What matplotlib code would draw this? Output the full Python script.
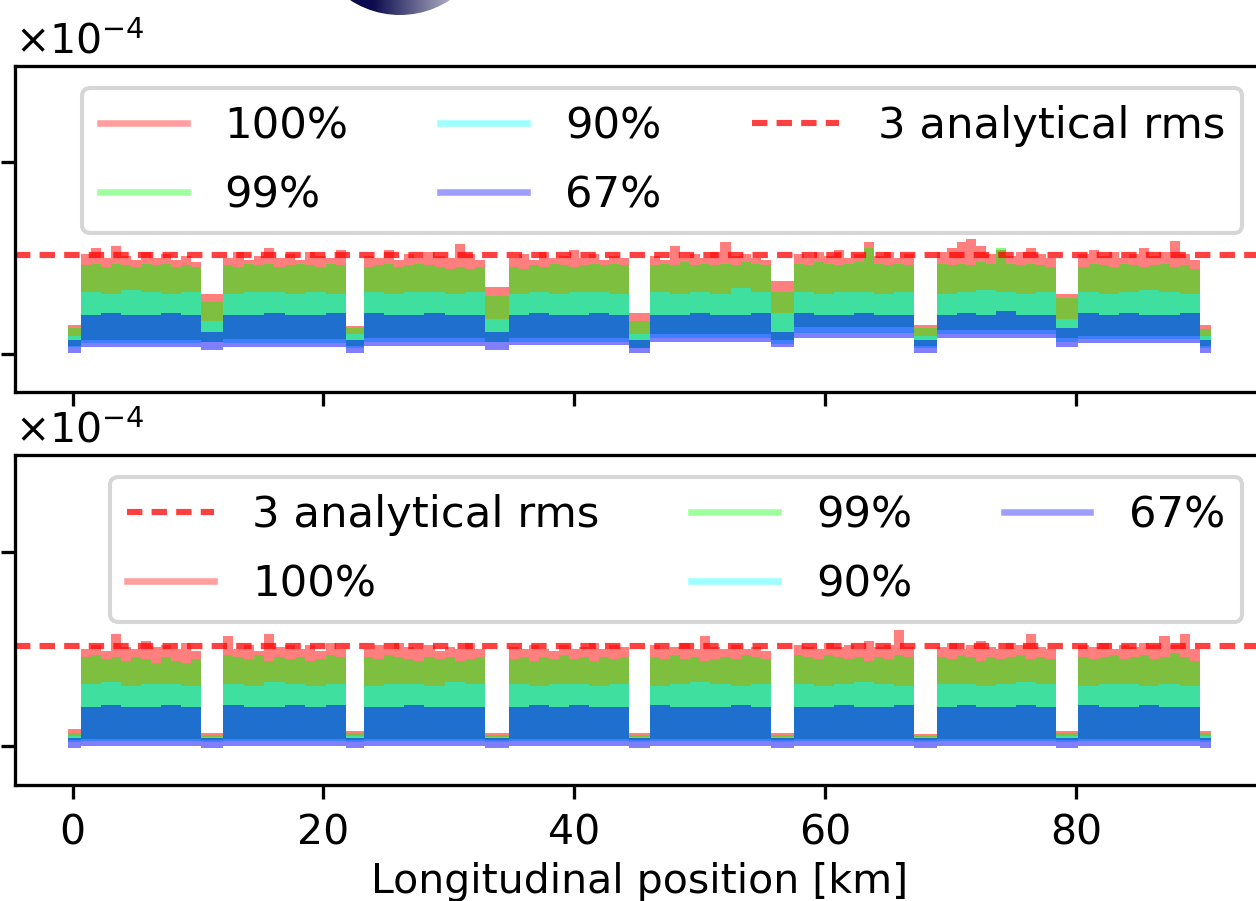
import matplotlib
matplotlib.use("Agg")
from matplotlib import pyplot as plt
from matplotlib.lines import Line2D
from matplotlib.patches import Circle
from matplotlib.colors import LinearSegmentedColormap
import numpy as np

W, H = 1256, 901
DPI = 295
SCALE = 1e-4  # values below are in units of 1e-4

RMS3 = 0.515  # 3 analytical rms

# region edges [km]: start piece, then main / gap alternating, end piece
SEG_EDGES = [-0.4, 0.7, 10.2, 12.0, 21.8, 23.2, 32.9, 34.8, 44.4, 46.0,
             55.7, 57.5, 67.1, 68.9, 78.4, 80.2, 89.9, 90.8]

BANDS = ["100%", "99%", "90%", "67%"]
BAND_COLORS = ["red", "lime", "cyan", "blue"]

# ---- top panel ----
TOP_HI100 = [
    0.15,
    [0.52, 0.55, 0.50, 0.56, 0.51, 0.49, 0.53, 0.50, 0.52, 0.49, 0.51, 0.48],
    0.31,
    [0.50, 0.53, 0.49, 0.51, 0.55, 0.50, 0.52, 0.49, 0.53, 0.51, 0.50, 0.54],
    0.145,
    [0.51, 0.50, 0.54, 0.49, 0.52, 0.50, 0.53, 0.51, 0.50, 0.57, 0.52, 0.49],
    0.35,
    [0.50, 0.52, 0.49, 0.53, 0.50, 0.51, 0.54, 0.50, 0.52, 0.49, 0.51, 0.50],
    0.21,
    [0.51, 0.49, 0.56, 0.50, 0.52, 0.50, 0.53, 0.58, 0.51, 0.52, 0.50, 0.49],
    0.38,
    [0.52, 0.50, 0.53, 0.51, 0.54, 0.50, 0.52, 0.58, 0.51, 0.53, 0.50, 0.52],
    0.15,
    [0.53, 0.55, 0.58, 0.60, 0.56, 0.52, 0.54, 0.51, 0.53, 0.55, 0.52, 0.50],
    0.31,
    [0.52, 0.54, 0.51, 0.53, 0.50, 0.52, 0.55, 0.51, 0.53, 0.59, 0.52, 0.49],
    0.15,
]
TOP_HI99 = [
    0.135,
    [0.46, 0.47, 0.45, 0.47, 0.46, 0.45, 0.47, 0.46, 0.47, 0.45, 0.46, 0.45],
    0.27,
    [0.46, 0.45, 0.47, 0.46, 0.47, 0.45, 0.46, 0.47, 0.46, 0.45, 0.47, 0.46],
    0.135,
    [0.45, 0.46, 0.47, 0.45, 0.46, 0.47, 0.46, 0.45, 0.44, 0.45, 0.44, 0.45],
    0.30,
    [0.45, 0.44, 0.46, 0.45, 0.47, 0.46, 0.45, 0.46, 0.47, 0.46, 0.47, 0.46],
    0.17,
    [0.46, 0.47, 0.46, 0.48, 0.46, 0.47, 0.46, 0.47, 0.46, 0.48, 0.47, 0.46],
    0.32,
    [0.47, 0.46, 0.48, 0.47, 0.46, 0.47, 0.48, 0.55, 0.47, 0.46, 0.47, 0.46],
    0.135,
    [0.47, 0.46, 0.47, 0.46, 0.48, 0.47, 0.55, 0.47, 0.46, 0.47, 0.46, 0.45],
    0.29,
    [0.45, 0.47, 0.46, 0.45, 0.47, 0.46, 0.45, 0.46, 0.47, 0.45, 0.46, 0.44],
    0.13,
]
TOP_HI90 = [
    0.09,
    [0.32, 0.31, 0.33, 0.32, 0.31, 0.32],
    0.17,
    [0.31, 0.32, 0.32, 0.31, 0.32, 0.31],
    0.10,
    [0.32, 0.31, 0.32, 0.32, 0.31, 0.32],
    0.18,
    [0.31, 0.32, 0.31, 0.32, 0.32, 0.31],
    0.10,
    [0.32, 0.31, 0.32, 0.31, 0.34, 0.32],
    0.21,
    [0.32, 0.31, 0.32, 0.32, 0.31, 0.32],
    0.09,
    [0.31, 0.32, 0.33, 0.32, 0.31, 0.32],
    0.18,
    [0.32, 0.31, 0.32, 0.33, 0.32, 0.31],
    0.09,
]
TOP_HI67 = [
    0.07,
    [0.20, 0.21, 0.20, 0.20, 0.21, 0.20],
    0.115,
    [0.20, 0.20, 0.21, 0.20, 0.20, 0.21],
    0.07,
    [0.21, 0.20, 0.20, 0.21, 0.20, 0.20],
    0.115,
    [0.20, 0.21, 0.20, 0.20, 0.21, 0.20],
    0.07,
    [0.20, 0.20, 0.21, 0.20, 0.20, 0.21],
    0.115,
    [0.21, 0.20, 0.20, 0.21, 0.20, 0.20],
    0.073,
    [0.20, 0.21, 0.20, 0.22, 0.20, 0.20],
    0.135,
    [0.21, 0.20, 0.21, 0.20, 0.20, 0.21],
    0.07,
]
TOP_LO100 = [0.04, 0.073, 0.06, 0.075, 0.04, 0.08, 0.06, 0.083, 0.03,
             0.10, 0.07, 0.14, 0.04, 0.125, 0.08, 0.09, 0.04]
TOP_LO99 = TOP_LO100
TOP_LO90 = [0.035, 0.057, 0.06, 0.057, 0.03, 0.06, 0.06, 0.063, 0.03,
            0.083, 0.05, 0.11, 0.03, 0.10, 0.06, 0.078, 0.03]
TOP_LO67 = [0.005, 0.036, 0.02, 0.036, 0.005, 0.04, 0.02, 0.047, 0.005,
            0.063, 0.035, 0.083, 0.005, 0.083, 0.035, 0.057, 0.005]

# ---- bottom panel ----
BOT_HI100 = [
    0.09,
    [0.50, 0.52, 0.49, 0.58, 0.51, 0.50, 0.54, 0.51, 0.52, 0.50, 0.53, 0.49],
    0.067,
    [0.57, 0.50, 0.52, 0.49, 0.58, 0.51, 0.52, 0.50, 0.52, 0.49, 0.53, 0.50],
    0.08,
    [0.50, 0.52, 0.50, 0.53, 0.51, 0.50, 0.52, 0.49, 0.51, 0.50, 0.53, 0.50],
    0.07,
    [0.51, 0.50, 0.52, 0.50, 0.49, 0.52, 0.50, 0.51, 0.53, 0.50, 0.52, 0.51],
    0.07,
    [0.52, 0.50, 0.51, 0.53, 0.50, 0.57, 0.51, 0.50, 0.52, 0.50, 0.51, 0.49],
    0.07,
    [0.52, 0.51, 0.50, 0.53, 0.51, 0.52, 0.50, 0.54, 0.51, 0.52, 0.60, 0.51],
    0.062,
    [0.51, 0.53, 0.50, 0.52, 0.54, 0.51, 0.50, 0.53, 0.52, 0.58, 0.51, 0.50],
    0.08,
    [0.52, 0.51, 0.53, 0.50, 0.52, 0.51, 0.53, 0.52, 0.57, 0.52, 0.58, 0.50],
    0.08,
]
BOT_HI99 = [
    0.07,
    [0.46, 0.47, 0.45, 0.46, 0.44, 0.46, 0.45, 0.43, 0.46, 0.44, 0.43, 0.45],
    0.057,
    [0.47, 0.46, 0.45, 0.47, 0.44, 0.46, 0.45, 0.46, 0.44, 0.45, 0.47, 0.46],
    0.067,
    [0.46, 0.45, 0.47, 0.46, 0.45, 0.44, 0.46, 0.45, 0.46, 0.44, 0.45, 0.46],
    0.06,
    [0.45, 0.46, 0.44, 0.46, 0.45, 0.47, 0.45, 0.46, 0.44, 0.46, 0.45, 0.46],
    0.06,
    [0.46, 0.45, 0.47, 0.45, 0.46, 0.44, 0.45, 0.46, 0.45, 0.47, 0.46, 0.45],
    0.06,
    [0.47, 0.46, 0.45, 0.47, 0.46, 0.45, 0.46, 0.44, 0.46, 0.45, 0.47, 0.46],
    0.055,
    [0.46, 0.45, 0.47, 0.46, 0.44, 0.46, 0.45, 0.46, 0.47, 0.45, 0.46, 0.45],
    0.067,
    [0.46, 0.45, 0.46, 0.47, 0.45, 0.46, 0.47, 0.45, 0.46, 0.48, 0.46, 0.44],
    0.07,
]
BOT_HI90 = [
    0.055,
    [0.32, 0.33, 0.31, 0.32, 0.32, 0.31],
    0.045,
    [0.32, 0.31, 0.33, 0.32, 0.31, 0.32],
    0.05,
    [0.31, 0.32, 0.32, 0.31, 0.33, 0.32],
    0.045,
    [0.32, 0.31, 0.32, 0.32, 0.31, 0.32],
    0.045,
    [0.31, 0.32, 0.33, 0.32, 0.31, 0.32],
    0.045,
    [0.32, 0.31, 0.32, 0.33, 0.32, 0.31],
    0.045,
    [0.32, 0.32, 0.31, 0.32, 0.33, 0.32],
    0.05,
    [0.31, 0.32, 0.32, 0.31, 0.32, 0.31],
    0.05,
]
BOT_HI67 = [
    0.04,
    [0.20, 0.21, 0.20, 0.20, 0.21, 0.20],
    0.04,
    [0.21, 0.20, 0.20, 0.21, 0.20, 0.21],
    0.04,
    [0.20, 0.20, 0.21, 0.20, 0.20, 0.20],
    0.04,
    [0.20, 0.21, 0.20, 0.21, 0.20, 0.20],
    0.04,
    [0.21, 0.20, 0.20, 0.20, 0.21, 0.20],
    0.04,
    [0.20, 0.20, 0.21, 0.20, 0.20, 0.21],
    0.04,
    [0.20, 0.21, 0.20, 0.20, 0.21, 0.20],
    0.04,
    [0.21, 0.20, 0.20, 0.21, 0.20, 0.20],
    0.04,
]
BOT_LO100 = [0.03, 0.036, 0.03, 0.036, 0.03, 0.036, 0.03, 0.036, 0.03,
             0.036, 0.03, 0.036, 0.03, 0.036, 0.03, 0.036, 0.03]
BOT_LO99 = BOT_LO100
BOT_LO90 = [0.02, 0.025, 0.02, 0.025, 0.02, 0.025, 0.02, 0.025, 0.02,
            0.025, 0.02, 0.025, 0.02, 0.025, 0.02, 0.025, 0.02]
BOT_LO67 = [-0.008, 0.0, -0.008, 0.0, -0.008, 0.0, -0.008, 0.0, -0.008,
            0.0, -0.008, 0.0, -0.008, 0.0, -0.008, 0.0, -0.008]

X_TICKS = [0, 20, 40, 60, 80]


def expand(edges, hi, lo):
    # turn per-region values into step arrays
    xs, y_hi, y_lo = [], [], []
    for a, b, h, l in zip(edges[:-1], edges[1:], hi, lo):
        h = np.atleast_1d(h)
        bins = np.linspace(a, b, len(h) + 1)
        xs.extend(bins[:-1])
        y_hi.extend(h)
        y_lo.extend([l] * len(h))
    xs.append(edges[-1])
    y_hi.append(y_hi[-1])
    y_lo.append(y_lo[-1])
    return np.array(xs), np.array(y_hi) * SCALE, np.array(y_lo) * SCALE


def add_panel(ax, his, los, order):
    handles = {}
    for name, color, hi, lo in zip(BANDS, BAND_COLORS, his, los):
        x, y_hi, y_lo = expand(SEG_EDGES, hi, lo)
        ax.fill_between(x, y_lo, y_hi, step="post", color=color, alpha=0.5, lw=0)
        handles[name] = Line2D([], [], color=color, alpha=0.38, lw=1.6)
    handles["3 analytical rms"] = ax.axhline(RMS3 * SCALE, color="red", alpha=0.75,
                                             lw=1.5, ls=(0, (2.5, 1.5)))
    ax.set_ylim(-0.2 * SCALE, 1.5 * SCALE)
    ax.set_yticks([0, 1 * SCALE])
    ax.set_xlim(-4.6, 95.0)
    ax.set_xticks(X_TICKS)
    ax.ticklabel_format(axis="y", style="sci", scilimits=(0, 0), useMathText=True)
    # tick labels fall outside the cropped figure in the original,
    # but the x10^-4 offset stays
    ax.tick_params(axis="y", labelleft=False)
    ax.yaxis.offsetText.set_visible(True)
    ax.legend([handles[k] for k in order], order, ncol=3, loc="upper right",
              fontsize=10.6, labelspacing=0.62, handletextpad=0.88,
              columnspacing=2.1)


fig = plt.figure(figsize=(W / DPI, H / DPI), dpi=DPI)
ax_top = fig.add_axes([15 / W, (H - 392) / H, 1249 / W, 326 / H])
ax_bot = fig.add_axes([15 / W, (H - 785) / H, 1249 / W, 330 / H], sharex=ax_top)

add_panel(ax_top, [TOP_HI100, TOP_HI99, TOP_HI90, TOP_HI67],
          [TOP_LO100, TOP_LO99, TOP_LO90, TOP_LO67],
          ["100%", "99%", "90%", "67%", "3 analytical rms"])
add_panel(ax_bot, [BOT_HI100, BOT_HI99, BOT_HI90, BOT_HI67],
          [BOT_LO100, BOT_LO99, BOT_LO90, BOT_LO67],
          ["3 analytical rms", "100%", "99%", "90%", "67%"])
ax_top.tick_params(axis="x", labelbottom=False)
ax_bot.set_xlabel("Longitudinal position [km]", labelpad=2)

# piece of a round emblem peeking in at the top edge
deco = fig.add_axes([0, 0, 1, 1], zorder=-1)
deco.set_xlim(0, W)
deco.set_ylim(H, 0)
deco.axis("off")
cmap = LinearSegmentedColormap.from_list(
    "navy", [(0.0, "#0a0a48"), (0.35, "#0c0c4e"), (0.8, "#b4b4c8"), (1.0, "#c4c4d4")])
im = deco.imshow(np.linspace(0, 1, 256).reshape(1, -1), extent=[309, 491, 15, -167],
                 cmap=cmap, aspect="auto")
im.set_clip_path(Circle((400, -76), 91, transform=deco.transData))

fig.savefig("out.png", dpi=DPI)
